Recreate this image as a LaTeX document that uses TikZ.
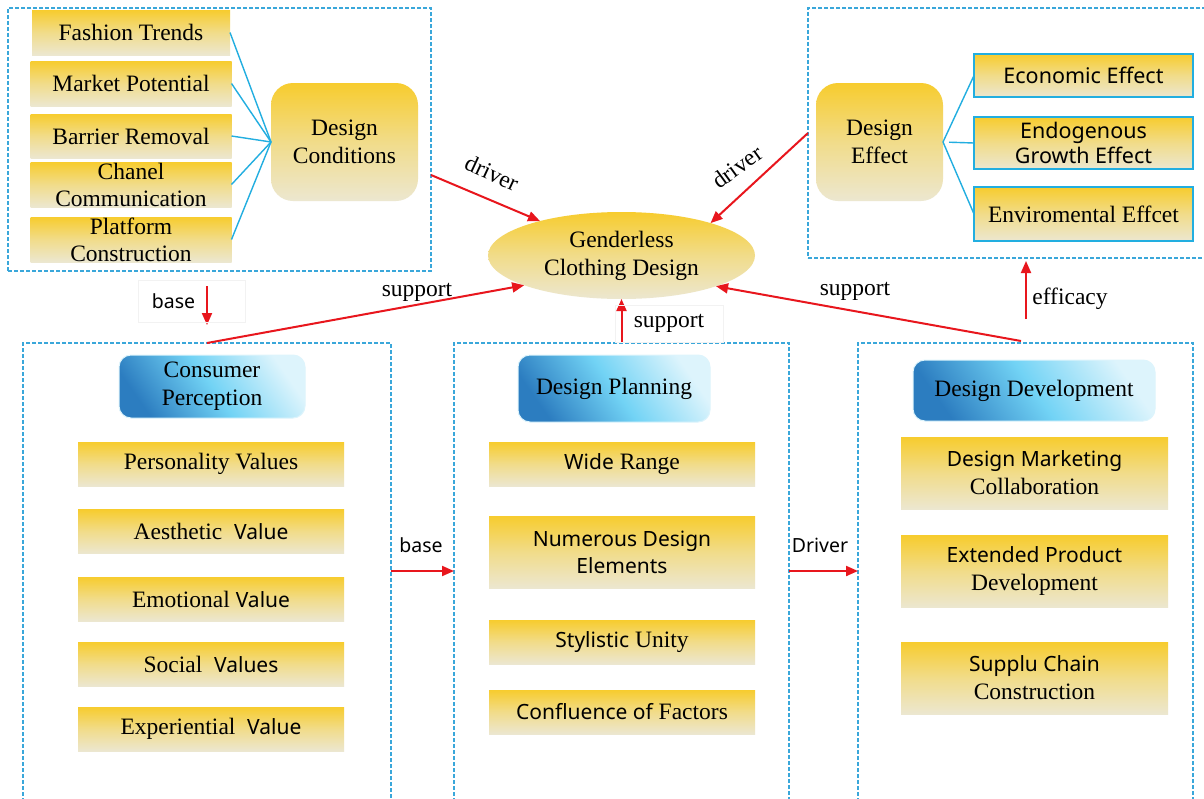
\documentclass[tikz,border=0pt]{standalone}
\usepackage{fontspec}
\setmainfont{Liberation Serif}
\setsansfont{Noto Sans}
\usetikzlibrary{arrows.meta,shapes.geometric}
\definecolor{ytop}{HTML}{F7CC2E}
\definecolor{ymid}{HTML}{F1DC8A}
\definecolor{ybot}{HTML}{ECE7D0}
\definecolor{dashc}{HTML}{3AA7DA}
\definecolor{linkc}{HTML}{22AEE0}
\definecolor{redc}{HTML}{E8161D}
\definecolor{bdark}{HTML}{2C7DC0}
\definecolor{bmid}{HTML}{72D3F5}
\definecolor{blight}{HTML}{DDF4FC}
\newcommand{\sanspart}[1]{{\sffamily\fontsize{21}{28}\selectfont #1}}
\tikzset{
  ybox/.style={rectangle, top color=ytop, bottom color=ybot, middle color=ymid,
    inner sep=0pt, outer sep=0pt, align=center, font=\fontsize{23.5}{28}\selectfont},
  rbox/.style={ybox, rounded corners=22pt},
  ebox/.style={ybox, draw=linkc, line width=2.5pt},
  hbox/.style={rectangle, rounded corners=12pt, draw=blight, line width=1pt,
    top color=blight, bottom color=bdark, middle color=bmid, shading angle=-55,
    inner sep=0pt, align=center, font=\fontsize{23.5}{28}\selectfont},
  dbox/.style={rectangle, draw=dashc, line width=1.2pt, dash pattern=on 4pt off 2pt,
    inner sep=0pt, outer sep=0pt},
  link/.style={draw=linkc, line width=1.4pt},
  arr/.style={draw=redc, line width=2pt, -{Triangle[length=12pt,width=10pt]}},
  lab/.style={inner sep=1pt, font=\fontsize{23.5}{26}\selectfont},
  slab/.style={inner sep=1pt, font=\sffamily\fontsize{19.5}{24}\selectfont},
}
\begin{document}
\begin{tikzpicture}[x=1pt,y=-1pt]
\useasboundingbox (0,0) rectangle (1204,798);
\fill[white] (0,0) rectangle (1204,798);

% dashed frames
\node[dbox, minimum width=423, minimum height=263] (TL) at (219.5,139.5) {};
\node[dbox, minimum width=404, minimum height=250] (TR) at (1010,133) {};
\node[dbox, minimum width=368, minimum height=477] (BL) at (207,581.5) {};
\node[dbox, minimum width=335, minimum height=477] (BM) at (621.5,581.5) {};
\node[dbox, minimum width=335, minimum height=477] (BR) at (1025.5,581.5) {};

% top-left cluster
\node[ybox, minimum width=198, minimum height=45] (ft) at (131,32.5) {Fashion Trends};
\node[ybox, minimum width=201, minimum height=45] (mp) at (131,83.5) {Market Potential};
\node[ybox, minimum width=201, minimum height=44] (br) at (131,136) {Barrier Removal};
\node[ybox, minimum width=201, minimum height=45, font=\fontsize{23.5}{27}\selectfont] (cc) at (131,184.5) {Chanel\\Communication};
\node[ybox, minimum width=201, minimum height=45, font=\fontsize{23.5}{27}\selectfont] (pc) at (131,239.5) {Platform\\Construction};
\node[rbox, minimum width=147, minimum height=118] (dc) at (344.5,142) {Design\\Conditions};
\foreach \n in {ft,mp,br,cc,pc} \draw[link] (\n.east) -- (dc.west);

% top-right cluster
\node[rbox, minimum width=127, minimum height=118] (de) at (879.5,142) {Design\\Effect};
\node[ebox, minimum width=219, minimum height=43, font=\sffamily\fontsize{21.5}{26}\selectfont] (ee) at (1083.5,75.5) {Economic Effect};
\node[ebox, minimum width=219, minimum height=52, font=\sffamily\fontsize{21.5}{25}\selectfont] (eg) at (1083.5,143) {Endogenous\\Growth Effect};
\node[ebox, minimum width=219, minimum height=54] (ev) at (1083.5,214) {Enviromental Effcet};
\draw[link] (de.east) -- (ee.west);
\draw[link, shorten <=6pt] (de.east) -- (eg.west);
\draw[link] (de.east) -- (ev.west);

% centre
\node[ellipse, top color=ytop, bottom color=ybot, middle color=ymid, minimum width=267,
  minimum height=87, inner sep=0pt, outer sep=0pt, align=center,
  font=\fontsize{23.5}{28}\selectfont] (g) at (621.5,255.5) {Genderless\\Clothing Design};

% headers
\node[hbox, minimum width=186, minimum height=63] (cp) at (212,386.5) {Consumer\\Perception};
\node[hbox, minimum width=192, minimum height=67] (dp) at (614,388.5) {Design Planning};
\node[hbox, minimum width=242, minimum height=61] (dd) at (1034,390.5) {Design Development};

% left column
\node[ybox, minimum width=266, minimum height=44] (pv) at (211,464) {Personality Values};
\node[ybox, minimum width=266, minimum height=44] (av) at (211,531.5) {Aesthetic \ \sanspart{Value}};
\node[ybox, minimum width=266, minimum height=44] (emv) at (211,599) {Emotional \sanspart{Value}};
\node[ybox, minimum width=266, minimum height=44] (sv) at (211,664) {Social \ \sanspart{Values}};
\node[ybox, minimum width=266, minimum height=44] (xv) at (211,729) {Experiential \ \sanspart{Value}};

% middle column
\node[ybox, minimum width=266, minimum height=44] (wr) at (622,464) {\sanspart{Wide} Range};
\node[ybox, minimum width=266, minimum height=72, font=\sffamily\fontsize{21}{27}\selectfont] (nd) at (622,552) {Numerous Design\\Elements};
\node[ybox, minimum width=266, minimum height=44] (su) at (622,642) {\sanspart{Stylistic} Unity};
\node[ybox, minimum width=266, minimum height=44] (cf) at (622,712) {\sanspart{Confluence of} Factors};

% right column
\node[ybox, minimum width=267, minimum height=72] (dm) at (1034.5,473) {\sanspart{Design Marketing}\\Collaboration};
\node[ybox, minimum width=267, minimum height=72] (ep) at (1034.5,571.5) {\sanspart{Extended Product}\\Development};
\node[ybox, minimum width=267, minimum height=72] (sc) at (1034.5,678) {\sanspart{Supplu Chain}\\Construction};

% red arrows
\coordinate (d1s) at (431,175);
\coordinate (d2s) at (808,133);
\coordinate (s1s) at (207,343);
\coordinate (s2s) at (621.5,343);
\coordinate (s3s) at (1021,341);
\coordinate (es) at (1026,319);
\coordinate (ee2) at (1026,261);
\coordinate (b1s) at (207,286);
\coordinate (b1e) at (207,325);
\coordinate (hr) at (0,571);
\draw[arr] (d1s) -- (g);
\draw[arr] (d2s) -- (g.20);
\draw[arr] (s1s) -- (g.197);
\draw[arr] (s2s) -- (g.south);
\draw[arr] (s3s) -- (g.342);
\draw[arr] (es) -- (ee2);
\draw[arr] (b1s) -- (b1e);
\draw[arr] (BL.east |- hr) -- (BM.west |- hr);
\draw[arr] (BM.east |- hr) -- (BR.west |- hr);

% labels
\node[lab, rotate=-25] (l1) at (492,173) {driver};
\node[lab, rotate=36] (l2) at (737,167) {driver};
\node[lab] (l3) at (417,292) {support};
\node[lab, draw=black!5, minimum width=108, minimum height=37] (l4) at (669,323.5) {support};
\node[lab] (l5) at (855,291) {support};
\node[lab] (l6) at (1070,299) {efficacy};
\node[slab, draw=black!5, minimum width=107, minimum height=42] (l7) at (191.5,301) {\hspace*{-36pt}base};
\node[slab] (l8) at (421,545) {base};
\node[slab] (l9) at (820,545) {Driver};
\end{tikzpicture}
\end{document}
